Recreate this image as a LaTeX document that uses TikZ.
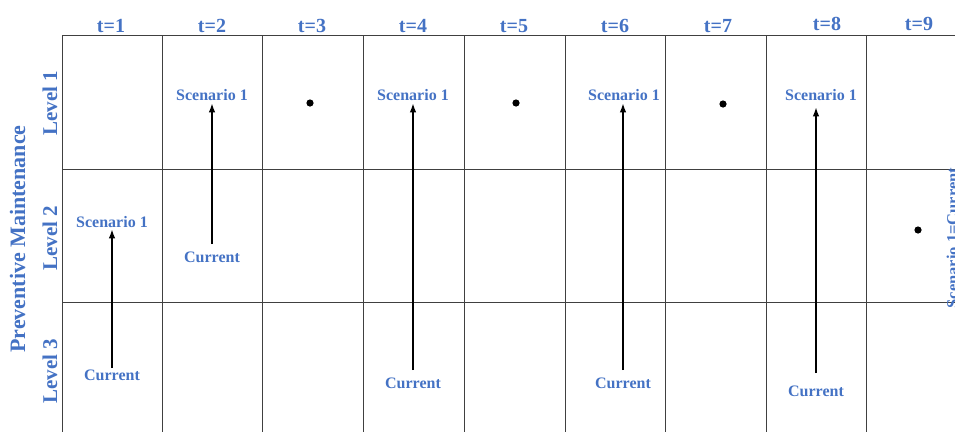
\documentclass[tikz,border=0pt]{standalone}
\usepackage{fontspec}
\setmainfont{Liberation Serif}
\usetikzlibrary{arrows.meta}
\definecolor{lblblue}{HTML}{4472C4}
\tikzset{
    lbl/.style={text=lblblue, font=\bfseries\fontsize{#1}{#1}\selectfont, inner sep=0pt, anchor=base},
    lbl/.default=16,
    vlbl/.style={lbl=#1, rotate=90},
    grid line/.style={draw=black!75, line width=0.9pt},
    arr/.style={-{Latex[length=9pt,width=6.5pt]}, line width=1.3pt}
}
\begin{document}
\begin{tikzpicture}[x=1pt, y=-1pt]
            \clip (0,0) rectangle (955,432);
            % grid
            \foreach \y in {35,169,302}
                \draw[grid line] (62,\y) -- (955,\y);
            \foreach \x in {62,162,262,363,464,565,665,766,866}
                \draw[grid line] (\x,35) -- (\x,432);
            % time steps
            \foreach \n/\x/\b in {1/111/32,2/212/32,3/312/32,4/413/32,5/514/32,6/615/32,7/718/32,8/827/30,9/919/30}
                \node[lbl=20] (t\n) at (\x,\b) {t=\n};
            % levels
            \node[vlbl=21] (lev1) at (57,103) {Level 1};
            \node[vlbl=21] (lev2) at (57,238) {Level 2};
            \node[vlbl=21] (lev3) at (57,371) {Level 3};
            \node[vlbl=22] (pm) at (25,239) {Preventive Maintenance};
            \node[vlbl=16.5] (eq9) at (958,238) {Scenario 1=Current};
            % scenarios
            \foreach \c/\x/\b in {1/112/380,2/212/262,4/413/388,6/623/388,8/816/396}
                \node[lbl] (cur\c) at (\x,\b) {Current};
            \node[lbl] (sc1) at (112,227) {Scenario 1};
            \node[lbl] (sc2) at (212,100) {Scenario 1};
            \node[lbl] (sc4) at (413,100) {Scenario 1};
            \node[lbl] (sc6) at (624,100) {Scenario 1};
            \node[lbl] (sc8) at (821,100) {Scenario 1};
            \foreach \c/\g/\h in {1/1/2,2/7/3,4/7/3,6/7/3,8/12/7}
                \draw[arr, shorten <=\g pt, shorten >=\h pt] (cur\c.north) -- (cur\c.north |- sc\c.south);
            % no change
            \foreach \x/\y in {310/103,516/103,723/104,918/230}
                \fill (\x,\y) circle (3.6pt);
        \end{tikzpicture}
\end{document}
